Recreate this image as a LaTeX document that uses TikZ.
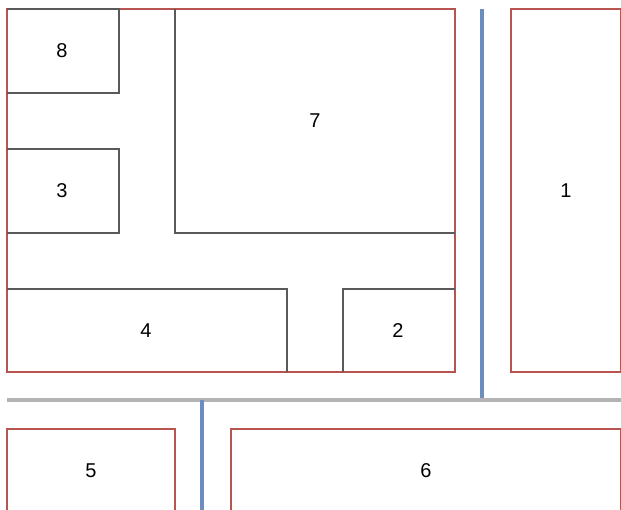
\documentclass[tikz,border=0pt]{standalone}
\usepackage{fontspec}
\setmainfont{Liberation Sans}
\usepackage{tikz}
\usetikzlibrary{positioning}
\definecolor{wallred}{HTML}{B85450}
\definecolor{pipeblue}{HTML}{6C8EBF}
\definecolor{roadgrey}{HTML}{B3B3B3}
\definecolor{roomline}{HTML}{5A5A5A}
\tikzset{
  outer/.style={draw=wallred,line width=1.5pt},
  inner/.style={draw=roomline,line width=1pt},
  pipe/.style={draw=pipeblue,line width=3pt},
  road/.style={draw=roadgrey,line width=3pt},
  num/.style={font=\fontsize{15}{18}\selectfont}
}
\begin{document}
\begin{tikzpicture}[x=0.75pt,y=-0.75pt]
    \useasboundingbox (0,0) rectangle (621,510);
    \clip (0,0) rectangle (621,510);
    % main block with its rooms
    \draw[outer] (7,9) rectangle (455,372);
    \draw[inner] (7,9) -| (119,93) -- (7,93);
    \draw[inner] (7,149) -| (119,233) -- (7,233);
    \draw[inner] (175,9) |- (455,233);
    \draw[inner] (7,289) -| (287,372);
    \draw[inner] (455,289) -| (343,372);
    \node[num] (r8) at (62,51) {8};
    \node[num] (r3) at (62,191) {3};
    \node[num] (r7) at (315,121) {7};
    \node[num] (r4) at (146,331) {4};
    \node[num] (r2) at (398,331) {2};
    % side block
    \draw[outer] (511,9) rectangle (621,372);
    \node[num] (r1) at (566,191) {1};
    % lower blocks
    \draw[outer] (7,429) rectangle (175,520);
    \draw[outer] (231,429) rectangle (621,520);
    \node[num] (r5) at (91,471) {5};
    \node[num] (r6) at (426,471) {6};
    % road and pipes
    \coordinate (pA) at (482,9);
    \coordinate (pB) at (482,400);
    \coordinate (qA) at (202,400);
    \coordinate (qB) at (202,515);
    \coordinate (gA) at (7,400);
    \coordinate (gB) at (625,400);
    \draw[pipe] (pA) -- (pB);
    \draw[road] (gA) -- (gB);
    \draw[pipe] (qA) -- (qB);
\end{tikzpicture}
\end{document}
